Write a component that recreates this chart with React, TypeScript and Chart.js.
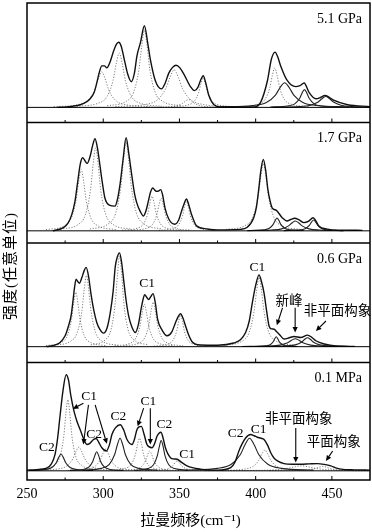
import React, { useEffect, useRef } from "react";
import { Chart, registerables } from "chart.js";

Chart.register(...registerables);

type Pt = [number, number];
type Note = { x: number; y: number; text: string };
type Arrow = [number, number, number, number];

// ---------- axis / labels ----------
const panelLabels = ["5.1 GPa", "1.7 GPa", "0.6 GPa", "0.1 MPa"];
const xTickValues = [250, 300, 350, 400, 450];
const xMinorTickValues = [275, 325, 375, 425];
const xTitle = "拉曼频移(cm⁻¹)";
const yTitle = "强度(任意单位)";

// ---------- Panel 1: 5.1 GPa ----------
const gpa51Envelope: Pt[] = [[270,0],[274,0.3],[280,1.2],[285,2.7],[289,5.5],[291.4,8.7],[294,15],[295.8,25],[297.5,36],[299.1,42],[300.8,42],[302.4,40],[304.5,46],[306.8,57],[308.5,63.5],[310.1,66],[311.8,62],[313.8,48.7],[316,34],[318.4,26],[320.5,35],[322.1,52],[324.5,66],[327,82.7],[329.3,64],[330.9,48.7],[334.2,27],[338.2,18.7],[340.5,24],[343,34.7],[345.5,40.5],[347.8,42.7],[350.3,40],[352.9,33.7],[357.2,21],[359.9,17],[362,20],[364,28],[365.6,32],[367.2,25],[369.3,12],[372.6,2.7],[377,0.4],[399,0.4],[403.3,5.3],[407.7,27],[410.3,48.7],[412.7,56],[414.5,51],[416.4,42],[420.8,27],[426.3,21],[429,22],[431.8,24.7],[435.1,15],[439.5,8.7],[442.5,10],[445.4,12],[448,10.5],[451.5,7],[460.3,2.7],[475,0.8]];
const gpa51Dotted: Pt[][] = [
  [[267.5,0.7],[283.3,2.7],[290,7.2],[294.5,18],[296.8,28.8],[299,36],[301.3,28.8],[303.5,18],[308,7.2],[314.8,2.7],[330.5,0.7]],
  [[282.5,1.1],[296.5,4.1],[302.5,11],[306.5,27.5],[308.5,44],[310.5,55],[312.5,44],[314.5,27.5],[318.5,11],[324.5,4.1],[338.5,1.1]],
  [[302.5,1.6],[314.8,5.9],[320,15.6],[323.5,39],[325.3,62.4],[327,78],[328.8,62.4],[330.5,39],[334,15.6],[339.3,5.9],[351.5,1.6]],
  [[308,0.8],[327.3,2.9],[335.5,7.6],[341,19],[343.8,30.4],[346.5,38],[349.3,30.4],[352,19],[357.5,7.6],[365.8,2.9],[385,0.8]],
  [[328,0.2],[342,0.6],[348,1.6],[352,4],[354,6.4],[356,8],[358,6.4],[360,4],[364,1.6],[370,0.6],[384,0.2]],
  [[344.6,0.6],[355.1,2.3],[359.6,6],[362.6,15],[364.1,24],[365.6,30],[367.1,24],[368.6,15],[371.6,6],[376.1,2.3],[386.6,0.6]],
  [[390.1,0.8],[401.3,3],[406.1,8],[409.3,20],[410.9,32],[412.5,40],[414.1,32],[415.7,20],[418.9,8],[423.7,3],[434.9,0.8]],
];
const gpa51Solid: Pt[][] = [
  [[377,0.5],[398,1.9],[407,5],[413,12.5],[416,20],[419,25],[422,20],[425,12.5],[431,5],[440,1.9],[461,0.5]],
  [[409.6,0.4],[420.8,1.4],[425.6,3.6],[428.8,9],[430.4,14.4],[432,18],[433.6,14.4],[435.2,9],[438.4,3.6],[443.2,1.4],[454.4,0.4]],
  [[411,0.2],[428.5,0.8],[436,2.2],[441,5.5],[443.5,8.8],[446,11],[448.5,8.8],[451,5.5],[456,2.2],[463.5,0.8],[475,0.3]],
];

// ---------- Panel 2: 1.7 GPa ----------
const gpa17Envelope: Pt[] = [[267,0],[273.9,3.3],[277,8],[279.4,16.7],[281.5,30],[283,46.7],[285,68],[286.5,74],[288,71],[289.5,68.3],[291.5,76],[293,86],[294.6,93.3],[296.2,84],[297.8,66.7],[299.5,48],[301.1,33.3],[304,26],[307.7,25],[309.5,33],[311,46.7],[313,72],[315,94.3],[316.8,78],[318.7,56.7],[320.5,38],[322,28.3],[324.5,19],[326.4,15],[328,20],[329.6,30],[331,39],[332.5,43.3],[334,41],[335,40],[336.5,40.5],[337.7,41.7],[339,36],[340.5,23.3],[343,12],[347,6.7],[349.5,11],[351.4,20],[353.2,28],[354.6,32.3],[356,27],[357.9,16.7],[361.2,5],[367.8,2],[375,1],[390,1.5],[394.3,3.3],[398.7,13.3],[400.5,24],[402,42],[403.5,62],[405,72.3],[406.5,62],[408,42],[409.5,30],[410.8,23.3],[413.6,20.7],[417.4,13.3],[420.6,10],[423,11.5],[425.6,12.7],[428.5,11],[431.6,8.3],[434.5,9.5],[437.7,13.3],[439.5,10],[441.4,5],[446.9,1.7],[455,0.7],[470,0.5]];
const gpa17Dotted: Pt[][] = [
  [[262.4,1.2],[274,4.7],[278.9,12.4],[282.2,31],[283.9,49.6],[285.5,62],[287.2,49.6],[288.8,31],[292.1,12.4],[297,4.7],[308.6,1.2]],
  [[271.9,1.7],[283.5,6.3],[288.4,16.8],[291.7,42],[293.4,67.2],[295,84],[296.7,67.2],[298.3,42],[301.6,16.8],[306.6,6.3],[318.1,1.7]],
  [[291.2,1.8],[303.1,6.8],[308.2,18],[311.6,45],[313.3,72],[315,90],[316.7,72],[318.4,45],[321.8,18],[326.9,6.8],[338.8,1.8]],
  [[312.4,0.7],[322.2,2.6],[326.4,7],[329.2,17.5],[330.6,28],[332,35],[333.4,28],[334.8,17.5],[337.6,7],[341.8,2.6],[351.6,0.7]],
  [[318.4,0.7],[328.2,2.5],[332.4,6.6],[335.2,16.5],[336.6,26.4],[338,33],[339.4,26.4],[340.8,16.5],[343.6,6.6],[347.8,2.5],[357.6,0.7]],
  [[336.4,0.6],[345.5,2.3],[349.4,6],[352,15],[353.3,24],[354.6,30],[355.9,24],[357.2,15],[359.8,6],[363.7,2.3],[372.8,0.6]],
  [[380.5,1.4],[392.8,5.1],[398,13.6],[401.5,34],[403.3,54.4],[405,68],[406.8,54.4],[408.5,34],[412,13.6],[417.3,5.1],[429.5,1.4]],
];
const gpa17Solid: Pt[][] = [
  [[396.5,0.3],[405.3,1],[409,2.6],[411.5,6.5],[412.8,10.4],[414,13],[415.3,10.4],[416.5,6.5],[419,2.6],[422.8,1],[431.5,0.3]],
  [[394.5,0.2],[410.3,0.8],[417,2],[421.5,5],[423.8,8],[426,10],[428.3,8],[430.5,5],[435,2],[441.8,0.8],[457.5,0.2]],
  [[418.4,0.2],[428.2,0.8],[432.4,2.2],[435.2,5.5],[436.6,8.8],[438,11],[439.4,8.8],[440.8,5.5],[443.6,2.2],[447.8,0.8],[457.6,0.2]],
];

// ---------- Panel 3: 0.6 GPa ----------
const gpa06Envelope: Pt[] = [[262.9,0],[268,1.5],[271.7,4.3],[275,11],[277.2,21],[279,32],[280,44.3],[281.2,60],[282.2,68.3],[283.3,66],[284.4,64.3],[286,70],[287.5,77],[288.8,80.3],[290.3,72],[291.9,54.3],[293.8,37],[295.8,24.3],[298,17],[300.2,13.7],[302.5,19],[304.6,34.3],[306.5,56],[307.9,81],[309.3,91],[310.7,95],[312,86],[313.4,67.7],[315,47],[316.7,31],[318.8,20],[321.1,14.3],[323,22],[324.8,37.7],[326,47],[327.2,52.7],[328.5,50],[329.8,47.7],[331.3,51],[332.7,53.7],[334.2,44],[335.7,27.7],[338.5,17],[341.9,11],[345,15],[347.4,24.3],[349.2,30.5],[350.7,33.3],[352.3,29],[354,21],[356,12],[358.3,5],[363.8,1.7],[375,1.5],[385.7,3.7],[390,7],[393.4,14.3],[395.8,26],[397.8,44.3],[400,62],[402.2,72.7],[403.8,66],[405.5,54.3],[407.2,36],[408.8,21],[410.5,18],[412.1,17.7],[413.8,15],[415.4,12.7],[418.6,7.7],[422,9],[425.2,10.3],[429.6,9.3],[434,11.7],[436.8,9.5],[439.5,6],[445,2.7],[452.6,0.7],[465,0.3]];
const gpa06Dotted: Pt[][] = [
  [[262.4,1.1],[272.2,4.1],[276.4,11],[279.2,27.5],[280.6,44],[282,55],[283.4,44],[284.8,27.5],[287.6,11],[291.8,4.1],[301.6,1.1]],
  [[268,1.4],[278.5,5.4],[283,14.4],[286,36],[287.5,57.6],[289,72],[290.5,57.6],[292,36],[295,14.4],[299.5,5.4],[310,1.4]],
  [[291.8,1.8],[301.3,6.9],[305.3,18.4],[308,46],[309.4,73.6],[310.7,92],[312.1,73.6],[313.4,46],[316.1,18.4],[320.2,6.9],[329.6,1.8]],
  [[307.4,0.9],[317.2,3.2],[321.4,8.6],[324.2,21.5],[325.6,34.4],[327,43],[328.4,34.4],[329.8,21.5],[332.6,8.6],[336.8,3.2],[346.6,0.9]],
  [[313.2,0.9],[323,3.4],[327.2,9],[330,22.5],[331.4,36],[332.8,45],[334.2,36],[335.6,22.5],[338.4,9],[342.6,3.4],[352.4,0.9]],
  [[333.2,0.6],[342,2.4],[345.7,6.4],[348.2,16],[349.5,25.6],[350.7,32],[352,25.6],[353.2,16],[355.7,6.4],[359.5,2.4],[368.2,0.6]],
  [[379.1,1.4],[390.7,5.3],[395.6,14],[398.9,35],[400.6,56],[402.2,70],[403.9,56],[405.5,35],[408.8,14],[413.8,5.3],[425.3,1.4]],
];
const gpa06Solid: Pt[][] = [
  [[399.5,0.2],[406.5,0.8],[409.5,2],[411.5,5],[412.5,8],[413.5,10],[414.5,8],[415.5,5],[417.5,2],[420.5,0.8],[427.5,0.2]],
  [[391,0.2],[408.5,0.6],[416,1.6],[421,4],[423.5,6.4],[426,8],[428.5,6.4],[431,4],[436,1.6],[443.5,0.6],[461,0.2]],
  [[406,0.2],[420,0.7],[426,1.8],[430,4.5],[432,7.2],[434,9],[436,7.2],[438,4.5],[442,1.8],[448,0.7],[462,0.2]],
];
const gpa06Notes: Note[] = [
  { x: 328.8, y: 64.3, text: "C1" },
  { x: 401.1, y: 80.3, text: "C1" },
  { x: 421.9, y: 46, text: "新峰" },
  { x: 453.7, y: 36, text: "非平面构象" },
];
const gpa06Arrows: Arrow[] = [
  [417.6, 39.3, 413.9, 21.7],
  [425.9, 39.3, 425.9, 14.3],
  [446.1, 26, 439.5, 16],
];

// ---------- Panel 4: 0.1 MPa ----------
const mpa01Envelope: Pt[] = [[250,0.7],[256,1.2],[262.9,2.7],[266,7],[268.4,16.7],[270,32],[271.7,56],[273.5,80],[275.7,97.3],[277.2,92],[278.7,76.7],[280.9,60],[282.8,50],[284.9,41.7],[287,33],[289.3,26.7],[291,27.5],[292.5,30],[294,32],[295.4,32.7],[297,29],[299.1,23.3],[302,20],[304,26],[305.7,36.7],[308,43.5],[311.2,46.7],[313.5,41],[315.6,31.7],[318.9,26.7],[320.5,32],[322.1,41.7],[323.5,44.5],[325,45],[326.8,37],[328.7,26.7],[332,23.3],[333.8,28],[335.3,35],[336.6,38],[337.9,39],[339.3,33],[340.8,23.3],[344.1,13.3],[346.5,12],[348.5,11.7],[351,9],[355,5],[363.8,1.7],[374.8,0.7],[383.6,3.3],[386.5,9],[389,20],[391,27],[393.4,33.3],[396.7,36.7],[399,35.5],[401.1,34],[403.5,33],[405.5,31.7],[407.8,26],[409.9,18.3],[412,13],[414.3,10],[418.6,7.3],[424,6.7],[429.6,6.7],[435,7],[440.6,7.3],[445,6.5],[449.3,5],[452.5,3],[455.9,1.7],[465,1],[475,0.7]];
const mpa01DottedC1: Pt[][] = [
  [[258.6,1.4],[267.7,5.4],[271.6,14.4],[274.2,36],[275.5,57.6],[276.8,72],[278.1,57.6],[279.4,36],[282,14.4],[285.9,5.4],[295,1.4]],
  [[256,0.5],[270,1.8],[276,4.8],[280,12],[282,19.2],[284,24],[286,19.2],[288,12],[292,4.8],[298,1.8],[312,0.5]],
  [[277,0.4],[289.3,1.7],[294.5,4.4],[298,11],[299.8,17.6],[301.5,22],[303.3,17.6],[305,11],[308.5,4.4],[313.8,1.7],[326,0.4]],
  [[304.9,0.7],[314.4,2.5],[318.4,6.6],[321.1,16.5],[322.5,26.4],[323.8,33],[325.2,26.4],[326.5,16.5],[329.2,6.6],[333.3,2.5],[342.7,0.7]],
  [[310.9,0.4],[320.7,1.5],[324.9,4],[327.7,10],[329.1,16],[330.5,20],[331.9,16],[333.3,10],[336.1,4],[340.3,1.5],[350.1,0.4]],
  [[327.5,0.2],[338,0.8],[342.5,2],[345.5,5],[347,8],[348.5,10],[350,8],[351.5,5],[354.5,2],[359,0.8],[369.5,0.2]],
  [[378,0.4],[392,1.6],[398,4.2],[402,10.5],[404,16.8],[406,21],[408,16.8],[410,10.5],[414,4.2],[420,1.6],[434,0.4]],
  [[367,0.1],[398.5,0.4],[412,1],[421,2.5],[425.5,4],[430,5],[434.5,4],[439,2.5],[448,1],[461.5,0.4],[475,0.2]],
  [[409,0.1],[426.5,0.3],[434,0.9],[439,2.3],[441.5,3.6],[444,4.5],[446.5,3.6],[449,2.3],[454,0.9],[461.5,0.3],[475,0.1]],
];
const mpa01SolidC2: Pt[][] = [
  [[251.3,0.3],[261.8,1.3],[266.3,3.4],[269.3,8.5],[270.8,13.6],[272.3,17],[273.8,13.6],[275.3,8.5],[278.3,3.4],[282.8,1.3],[293.3,0.3]],
  [[278.2,0.4],[287,1.4],[290.7,3.9],[293.2,9.7],[294.5,15.4],[295.7,19.3],[297,15.4],[298.2,9.7],[300.7,3.9],[304.5,1.4],[313.2,0.4]],
  [[286.5,0.7],[298.8,2.5],[304,6.6],[307.5,16.5],[309.3,26.4],[311,33],[312.8,26.4],[314.5,16.5],[318,6.6],[323.3,2.5],[335.5,0.7]],
  [[320.5,0.6],[329.3,2.3],[333,6.1],[335.5,15.4],[336.8,24.6],[338,30.7],[339.3,24.6],[340.5,15.4],[343,6.1],[346.8,2.3],[355.5,0.6]],
  [[354,0.7],[375,2.5],[384,6.6],[390,16.5],[393,26.4],[396,33],[399,26.4],[402,16.5],[408,6.6],[417,2.5],[438,0.7]],
];
const mpa01Notes: Note[] = [
  { x: 263, y: 23.5, text: "C2" },
  { x: 290.8, y: 75, text: "C1" },
  { x: 294.1, y: 37, text: "C2" },
  { x: 309.9, y: 55, text: "C2" },
  { x: 329.6, y: 70, text: "C1" },
  { x: 340.1, y: 46.7, text: "C2" },
  { x: 355.1, y: 16.7, text: "C1" },
  { x: 386.8, y: 38, text: "C2" },
  { x: 402, y: 41.5, text: "C1" },
  { x: 428.3, y: 51.7, text: "非平面构象" },
  { x: 451.3, y: 29.2, text: "平面构象" },
];
const mpa01Arrows: Arrow[] = [
  [287, 68.4, 280.1, 62.7],
  [290.3, 66.7, 287, 26.7],
  [294.7, 66.7, 302.4, 27.4],
  [326.5, 63.4, 322.6, 45],
  [330.9, 63.4, 330.9, 26.7],
  [426.3, 43.4, 426.3, 8.4],
  [450.5, 20, 446.1, 10],
];

// ---------- assembly ----------
const PANELS = [
  { id: "p1", envelope: gpa51Envelope, dotted: gpa51Dotted, solid: gpa51Solid, notes: [] as Note[], arrows: [] as Arrow[], min: -15.3, max: 105.7, weight: 4, sw: 121 },
  { id: "p2", envelope: gpa17Envelope, dotted: gpa17Dotted, solid: gpa17Solid, notes: [] as Note[], arrows: [] as Arrow[], min: -12.3, max: 109.7, weight: 3, sw: 122 },
  { id: "p3", envelope: gpa06Envelope, dotted: gpa06Dotted, solid: gpa06Solid, notes: gpa06Notes, arrows: gpa06Arrows, min: -16, max: 105, weight: 2, sw: 121 },
  { id: "p4", envelope: mpa01Envelope, dotted: mpa01DottedC1, solid: mpa01SolidC2, notes: mpa01Notes, arrows: mpa01Arrows, min: -9.3, max: 109.7, weight: 1, sw: 119 },
];

const SERIF = '"Liberation Serif", "DejaVu Serif", "Noto Sans CJK SC", serif';
const toXY = (pts: Pt[]) => pts.map(([x, y]) => ({ x, y }));

function strokeLine(ctx: CanvasRenderingContext2D, x1: number, y1: number, x2: number, y2: number) {
  ctx.beginPath();
  ctx.moveTo(x1, y1);
  ctx.lineTo(x2, y2);
  ctx.stroke();
}

function drawArrow(ctx: CanvasRenderingContext2D, x1: number, y1: number, x2: number, y2: number) {
  const ang = Math.atan2(y2 - y1, x2 - x1);
  const L = 5.5, W = 2.6;
  const bx = x2 - L * Math.cos(ang), by = y2 - L * Math.sin(ang);
  strokeLine(ctx, x1, y1, bx, by);
  ctx.beginPath();
  ctx.moveTo(x2, y2);
  ctx.lineTo(bx + W * Math.sin(ang), by - W * Math.cos(ang));
  ctx.lineTo(bx - W * Math.sin(ang), by + W * Math.cos(ang));
  ctx.closePath();
  ctx.fill();
}

const decorPlugin = {
  id: "decor",
  afterDatasetsDraw(chart: any) {
    const ctx: CanvasRenderingContext2D = chart.ctx;
    const area = chart.chartArea;
    const xs = chart.scales.x;
    ctx.save();
    ctx.strokeStyle = "#000";
    ctx.fillStyle = "#000";
    PANELS.forEach((p, i) => {
      const ys = chart.scales[p.id];
      const y0 = ys.getPixelForValue(0);
      ctx.lineWidth = 1;
      strokeLine(ctx, area.left, y0, area.right, y0);
      xTickValues.forEach((v) => {
        if (v <= xs.min) return;
        const px = xs.getPixelForValue(v);
        strokeLine(ctx, px, ys.bottom, px, ys.bottom - 4);
      });
      xMinorTickValues.forEach((v) => {
        const px = xs.getPixelForValue(v);
        strokeLine(ctx, px, ys.bottom, px, ys.bottom - 2.5);
      });
      if (i < PANELS.length - 1) {
        ctx.lineWidth = 1.7;
        strokeLine(ctx, area.left, ys.bottom, area.right, ys.bottom);
      }
      ctx.font = `14px ${SERIF}`;
      ctx.textAlign = "right";
      ctx.textBaseline = "alphabetic";
      ctx.fillText(panelLabels[i], area.right - 8, ys.top + 20);
      ctx.textAlign = "center";
      ctx.textBaseline = "middle";
      p.notes.forEach((n) => {
        ctx.font = `13.5px ${SERIF}`;
        ctx.fillText(n.text, xs.getPixelForValue(n.x), ys.getPixelForValue(n.y));
      });
      ctx.lineWidth = 1.1;
      p.arrows.forEach(([a, b, c, d]) => {
        drawArrow(ctx, xs.getPixelForValue(a), ys.getPixelForValue(b), xs.getPixelForValue(c), ys.getPixelForValue(d));
      });
    });
    ctx.lineWidth = 1.5;
    ctx.strokeRect(area.left, area.top, area.right - area.left, area.bottom - area.top);
    // axis titles
    ctx.font = `15px ${SERIF}`;
    ctx.textAlign = "center";
    ctx.textBaseline = "middle";
    ctx.fillText(xTitle, (area.left + area.right) / 2 - 8, 521);
    ctx.save();
    ctx.translate(11, 266);
    ctx.rotate(-Math.PI / 2);
    try { (ctx as any).letterSpacing = "1px"; } catch (e) {}
    ctx.fillText(yTitle, 0, 0);
    ctx.restore();
    ctx.restore();
  },
};

export default function App() {
  const ref = useRef<HTMLCanvasElement | null>(null);
  useEffect(() => {
    document.body.style.margin = "0";
    if (!ref.current) return;
    const datasets: any[] = [];
    PANELS.forEach((p) => {
      datasets.push({
        data: toXY(p.envelope), yAxisID: p.id, borderColor: "#111", borderWidth: 1.4,
        pointRadius: 0, fill: false, cubicInterpolationMode: "monotone",
      });
      p.solid.forEach((s) => datasets.push({
        data: toXY(s), yAxisID: p.id, borderColor: "#222", borderWidth: 1.1,
        pointRadius: 0, fill: false, cubicInterpolationMode: "monotone",
      }));
      p.dotted.forEach((s) => datasets.push({
        data: toXY(s), yAxisID: p.id, borderColor: "#777", borderWidth: 0.95,
        borderDash: [1.2, 1.6], pointRadius: 0, fill: false, cubicInterpolationMode: "monotone",
      }));
    });
    const scales: any = {
      x: {
        type: "linear", min: 250, max: 475, position: "bottom",
        grid: { display: false, drawTicks: false }, border: { display: false },
        afterBuildTicks: (s: any) => { s.ticks = xTickValues.map((v) => ({ value: v })); },
        ticks: { padding: 6, color: "#000", font: { family: SERIF, size: 14 }, maxRotation: 0, autoSkip: false },
      },
    };
    PANELS.forEach((p) => {
      scales[p.id] = {
        type: "linear", position: "left", stack: "panels", stackWeight: p.sw, weight: p.weight,
        min: p.min, max: p.max, display: true,
        ticks: { display: false }, grid: { display: false, drawTicks: false }, border: { display: false },
      };
    });
    const chart = new Chart(ref.current, {
      type: "line",
      data: { datasets },
      options: {
        responsive: false,
        animation: false,
        events: [],
        layout: { padding: { left: 27, right: 2, top: 3, bottom: 23.2 } },
        plugins: { legend: { display: false }, tooltip: { enabled: false } },
        scales,
      },
      plugins: [decorPlugin],
    } as any);
    return () => chart.destroy();
  }, []);
  return (
    <div style={{ width: 372, height: 532, background: "#fff" }}>
      <canvas ref={ref} width={372} height={532} style={{ display: "block" }} />
    </div>
  );
}
